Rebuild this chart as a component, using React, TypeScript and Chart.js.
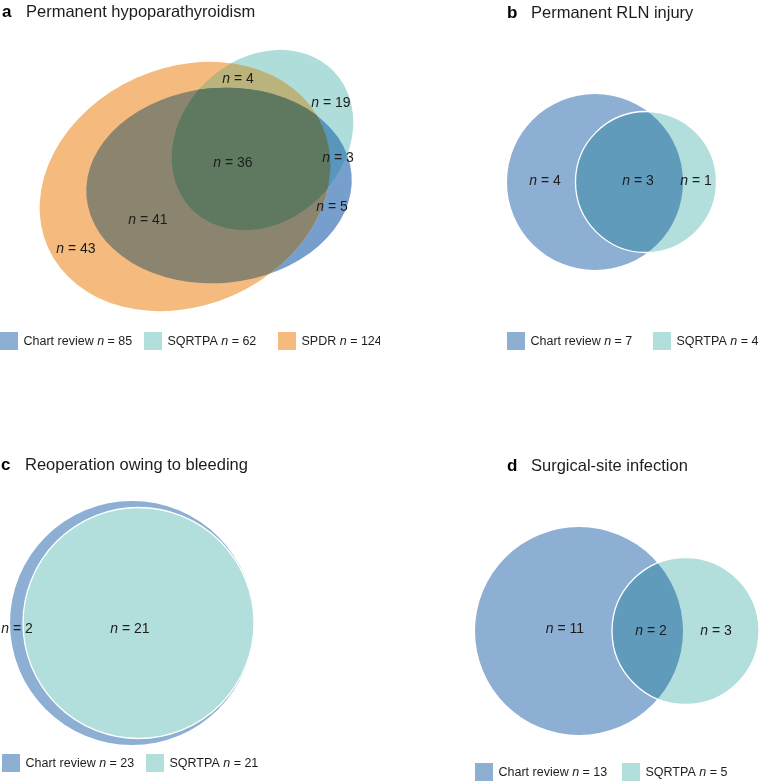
import React, { useEffect, useRef } from 'react';
import { Chart, registerables } from 'chart.js';

Chart.register(...registerables);

const FONT = '"Liberation Sans", Arial, Helvetica, sans-serif';
const TEXT_COLOR = '#1d1d1b';

// ---------------- Data ----------------
// Panel a
const aLetter = 'a';
const aTitle = 'Permanent hypoparathyroidism';
const aSetNames = ['Chart review', 'SQRTPA', 'SPDR'];
const aSetTotals = [85, 62, 124];
// regions: Chart review only, SQRTPA only, SPDR only, CR∩SQ, CR∩SPDR, SQ∩SPDR, all three
const aRegionKeys = ['0', '1', '2', '01', '02', '12', '012'];
const aRegionCounts = [5, 19, 43, 3, 41, 4, 36];

// Panel b
const bLetter = 'b';
const bTitle = 'Permanent RLN injury';
const bSetNames = ['Chart review', 'SQRTPA'];
const bSetTotals = [7, 4];
const bRegionKeys = ['0', '1', '01'];
const bRegionCounts = [4, 1, 3];

// Panel c
const cLetter = 'c';
const cTitle = 'Reoperation owing to bleeding';
const cSetNames = ['Chart review', 'SQRTPA'];
const cSetTotals = [23, 21];
const cRegionKeys = ['0', '01'];
const cRegionCounts = [2, 21];

// Panel d
const dLetter = 'd';
const dTitle = 'Surgical-site infection';
const dSetNames = ['Chart review', 'SQRTPA'];
const dSetTotals = [13, 5];
const dRegionKeys = ['0', '1', '01'];
const dRegionCounts = [11, 3, 2];

// ---------------- Geometry (panel-local units) ----------------
const PANEL_W = 380;
const PANEL_H = 391;

const aShapes = [
  { cx: 219, cy: 185.5, rx: 133, ry: 97.5, rot: -5 },
  { cx: 262.5, cy: 140, rx: 99, ry: 81, rot: -44 },
  { cx: 185, cy: 186.5, rx: 150, ry: 119, rot: -24 },
];
const aLabelPos = [[332, 207], [331, 103], [76, 249], [338, 158], [148, 220], [238, 79], [233, 163]];

const bShapes = [
  { cx: 215, cy: 182, rx: 88, ry: 88, rot: 0 },
  { cx: 266, cy: 182, rx: 70.5, ry: 70.5, rot: 0 },
];
const bLabelPos = [[165, 181], [316, 181], [258, 181]];

const cShapes = [
  { cx: 132, cy: 232, rx: 122, ry: 122, rot: 0 },
  { cx: 138.5, cy: 232, rx: 115.5, ry: 115.5, rot: 0 },
];
const cLabelPos = [[17, 238], [130, 238]];

const dShapes = [
  { cx: 579 - 380, cy: 240, rx: 104, ry: 104, rot: 0 },
  { cx: 685.5 - 380, cy: 240, rx: 73.5, ry: 73.5, rot: 0 },
];
const dLabelPos = [[185, 238], [336, 240], [271, 240]];

// ---------------- Styles ----------------
const BLUE = '#8DAFD4';
const TEAL = '#B2DFDB';
const ORANGE = '#F5BA7E';
const BLUE_TEAL = '#609BBB';

const aColors: Record<string, string> = {
  '0': '#779FCE', '1': '#AEDDDA', '2': ORANGE, '01': '#5896BE', '02': '#8B8570', '12': '#BAB47C', '012': '#5F7860',
};
const twoColors: Record<string, string> = { '0': BLUE, '1': TEAL, '01': BLUE_TEAL };
const cColors: Record<string, string> = { '0': BLUE, '1': TEAL, '01': TEAL };

type Shape = { cx: number; cy: number; rx: number; ry: number; rot: number };
type PanelCfg = {
  left: number; top: number;
  letter: string; title: string; titleX: number; titleY: number;
  setNames: string[]; setTotals: number[]; legendColors: string[];
  shapes: Shape[]; regionKeys: string[]; regionCounts: number[]; labelPos: number[][];
  colors: Record<string, string>; strokeTop: boolean;
  legendBoxX: number[]; legendY: number;
};

const panels: PanelCfg[] = [
  {
    left: 0, top: 0, letter: aLetter, title: aTitle, titleX: 2, titleY: 12,
    setNames: aSetNames, setTotals: aSetTotals, legendColors: [BLUE, TEAL, ORANGE],
    shapes: aShapes, regionKeys: aRegionKeys, regionCounts: aRegionCounts, labelPos: aLabelPos,
    colors: aColors, strokeTop: false, legendBoxX: [0, 144, 278], legendY: 332,
  },
  {
    left: 380, top: 0, letter: bLetter, title: bTitle, titleX: 127, titleY: 13,
    setNames: bSetNames, setTotals: bSetTotals, legendColors: [BLUE, TEAL],
    shapes: bShapes, regionKeys: bRegionKeys, regionCounts: bRegionCounts, labelPos: bLabelPos,
    colors: twoColors, strokeTop: true, legendBoxX: [127, 273], legendY: 332,
  },
  {
    left: 0, top: 391, letter: cLetter, title: cTitle, titleX: 1, titleY: 74,
    setNames: cSetNames, setTotals: cSetTotals, legendColors: [BLUE, TEAL],
    shapes: cShapes, regionKeys: cRegionKeys, regionCounts: cRegionCounts, labelPos: cLabelPos,
    colors: cColors, strokeTop: true, legendBoxX: [2, 146], legendY: 363,
  },
  {
    left: 380, top: 391, letter: dLetter, title: dTitle, titleX: 127, titleY: 75,
    setNames: dSetNames, setTotals: dSetTotals, legendColors: [BLUE, TEAL],
    shapes: dShapes, regionKeys: dRegionKeys, regionCounts: dRegionCounts, labelPos: dLabelPos,
    colors: twoColors, strokeTop: true, legendBoxX: [95, 242], legendY: 372,
  },
];

function drawNText(ctx: CanvasRenderingContext2D, prefix: string, value: number, x: number, y: number, size: number, center: boolean) {
  const normal = `${size}px ${FONT}`;
  const italic = `italic ${size}px ${FONT}`;
  const suffix = ` = ${value}`;
  ctx.font = normal;
  const w1 = ctx.measureText(prefix).width;
  const w3 = ctx.measureText(suffix).width;
  ctx.font = italic;
  const w2 = ctx.measureText('n').width;
  let sx = center ? x - (w1 + w2 + w3) / 2 : x;
  ctx.textBaseline = 'middle';
  ctx.textAlign = 'left';
  ctx.fillStyle = TEXT_COLOR;
  ctx.font = normal;
  if (prefix) ctx.fillText(prefix, sx, y);
  sx += w1;
  ctx.font = italic;
  ctx.fillText('n', sx, y);
  sx += w2;
  ctx.font = normal;
  ctx.fillText(suffix, sx, y);
}

function makeVennPlugin(cfg: PanelCfg) {
  return {
    id: 'venn',
    afterDatasetsDraw(chart: any) {
      const ctx: CanvasRenderingContext2D = chart.ctx;
      const xs = chart.scales.x;
      const ys = chart.scales.y;
      const ells = cfg.shapes.map((s, i) => {
        const el = chart.getDatasetMeta(i).data[0];
        return {
          x: el.x,
          y: el.y,
          rx: Math.abs(xs.getPixelForValue(s.cx + s.rx) - xs.getPixelForValue(s.cx)),
          ry: Math.abs(ys.getPixelForValue(s.cy + s.ry) - ys.getPixelForValue(s.cy)),
          rot: (s.rot * Math.PI) / 180,
        };
      });
      const path = (e: any) => {
        ctx.beginPath();
        ctx.ellipse(e.x, e.y, e.rx, e.ry, e.rot, 0, Math.PI * 2);
      };
      const keys = Object.keys(cfg.colors).sort((p, q) => p.length - q.length);
      keys.forEach((k) => {
        const idx = k.split('').map(Number);
        if (idx.some((i) => i >= ells.length)) return;
        ctx.save();
        for (let j = 0; j < idx.length - 1; j++) {
          path(ells[idx[j]]);
          ctx.clip();
        }
        path(ells[idx[idx.length - 1]]);
        ctx.fillStyle = cfg.colors[k];
        ctx.fill();
        ctx.restore();
      });
      if (cfg.strokeTop) {
        ctx.save();
        path(ells[1]);
        ctx.strokeStyle = '#ffffff';
        ctx.lineWidth = 1.3;
        ctx.stroke();
        ctx.restore();
      }
      // region labels
      const labelMeta = chart.getDatasetMeta(cfg.shapes.length);
      labelMeta.data.forEach((pt: any, j: number) => {
        drawNText(ctx, '', cfg.regionCounts[j], pt.x, pt.y, 14, true);
      });
      // title
      ctx.save();
      ctx.textBaseline = 'middle';
      ctx.textAlign = 'left';
      ctx.fillStyle = '#000000';
      ctx.font = `bold 17px ${FONT}`;
      ctx.fillText(cfg.letter, cfg.titleX, cfg.titleY);
      ctx.fillStyle = TEXT_COLOR;
      ctx.font = `16.5px ${FONT}`;
      ctx.fillText(cfg.title, cfg.titleX + 24, cfg.titleY);
      ctx.restore();
      // legend
      cfg.setNames.forEach((name, i) => {
        const bx = cfg.legendBoxX[i];
        ctx.fillStyle = cfg.legendColors[i];
        ctx.fillRect(bx, cfg.legendY, 18, 18);
        drawNText(ctx, name + ' ', cfg.setTotals[i], bx + 23.5, cfg.legendY + 9.5, 12.5, false);
      });
    },
  };
}

function VennPanel({ cfg }: { cfg: PanelCfg }) {
  const ref = useRef<HTMLCanvasElement | null>(null);
  useEffect(() => {
    if (!ref.current) return;
    const chart = new Chart(ref.current, {
      type: 'scatter',
      data: {
        datasets: [
          ...cfg.shapes.map((s, i) => ({
            label: cfg.setNames[i],
            data: [{ x: s.cx, y: s.cy }],
            pointRadius: 0,
          })),
          {
            label: 'regions',
            data: cfg.labelPos.map(([x, y]) => ({ x, y })),
            pointRadius: 0,
          },
        ],
      },
      options: {
        animation: false,
        responsive: false,
        devicePixelRatio: 1,
        events: [],
        layout: { padding: 0 },
        scales: {
          x: { type: 'linear', min: 0, max: PANEL_W, display: false },
          y: { type: 'linear', min: 0, max: PANEL_H, reverse: true, display: false },
        },
        plugins: {
          legend: { display: false },
          tooltip: { enabled: false },
          title: { display: false },
        },
      } as any,
      plugins: [makeVennPlugin(cfg)],
    });
    return () => chart.destroy();
  }, [cfg]);
  return (
    <canvas
      ref={ref}
      width={PANEL_W}
      height={PANEL_H}
      style={{ position: 'absolute', left: cfg.left, top: cfg.top, width: PANEL_W, height: PANEL_H, display: 'block' }}
    />
  );
}

export default function App() {
  return (
    <div style={{ position: 'absolute', left: 0, top: 0, width: 760, height: 782, background: '#ffffff', overflow: 'hidden' }}>
      {panels.map((p) => (
        <VennPanel key={p.letter} cfg={p} />
      ))}
    </div>
  );
}
